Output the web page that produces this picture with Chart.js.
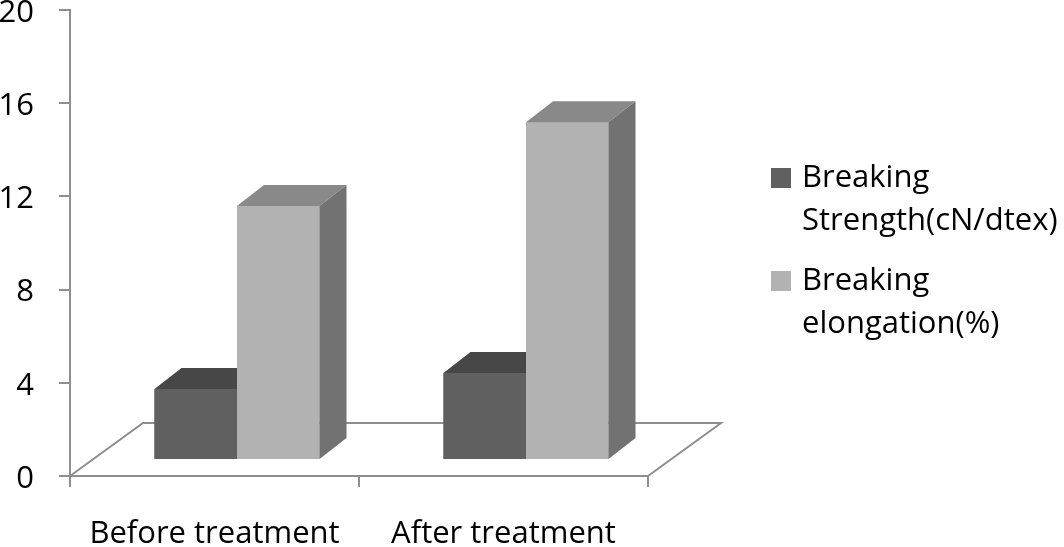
<!DOCTYPE html>
<html>
<head>
<meta charset="utf-8">
<script src="https://cdn.jsdelivr.net/npm/chart.js@4.4.1/dist/chart.umd.min.js"></script>
<style>
  body { margin: 0; background: #fff; }
  #wrap { position: relative; width: 1064px; height: 547px; overflow: hidden; }
  #legend { position: absolute; left: 771px; top: 0; font-family: "Open Sans", sans-serif; font-size: 31px; color: #000; }
  .item { position: absolute; left: 0; white-space: nowrap; }
  .item .box { position: absolute; left: 0; width: 20px; height: 20px; }
  .item .txt { position: absolute; left: 31px; line-height: 43px; }
</style>
</head>
<body>
<div id="wrap">
  <canvas id="chart"></canvas>
  <div id="legend"></div>
</div>
<script>
// datos
const categories = ['Before treatment', 'After treatment'];
const seriesNames = ['Breaking Strength(cN/dtex)', 'Breaking elongation(%)'];
const strength = [3.05, 3.73];
const elongation = [10.9, 14.5];
const yTicks = [0, 4, 8, 12, 16, 20];

const axisColor = '#8e8e8e';
const font = { family: 'Open Sans', size: 31 };

// desplazamientos del efecto 3D
const depth = { dx: 27, dy: 21 };
const shift = { dx: 22.5, dy: -16 };
const floor = { dx: 73, dy: 53 };

const bar3d = {
    id: 'bar3d',
    beforeDatasetsDraw(chart) {
        const { ctx, chartArea: a } = chart;
        const y0 = chart.scales.y.getPixelForValue(0);
        ctx.save();
        ctx.strokeStyle = axisColor;
        ctx.lineWidth = 2;
        ctx.beginPath();
        ctx.moveTo(a.left, y0);
        ctx.lineTo(a.left + floor.dx, y0 - floor.dy);
        ctx.lineTo(a.right + floor.dx, y0 - floor.dy);
        ctx.lineTo(a.right, y0);
        ctx.stroke();
        ctx.restore();
        ctx.save();
        ctx.translate(shift.dx, shift.dy);
    },
    afterDatasetsDraw(chart) {
        const ctx = chart.ctx;
        // todas las barras, de izquierda a derecha, para que se tapen bien
        const bars = [];
        chart.data.datasets.forEach((ds, i) => {
            chart.getDatasetMeta(i).data.forEach(bar => bars.push({ ds, bar }));
        });
        bars.sort((a, b) => a.bar.x - b.bar.x);
        bars.forEach(({ ds, bar }) => {
            const { x, y, base, width } = bar.getProps(['x', 'y', 'base', 'width'], true);
            const l = x - width / 2, r = x + width / 2;
            ctx.fillStyle = ds.backgroundColor;
            ctx.fillRect(l, y, width, base - y);
            ctx.fillStyle = ds.topColor;
            ctx.beginPath();
            ctx.moveTo(l, y);
            ctx.lineTo(l + depth.dx, y - depth.dy);
            ctx.lineTo(r + depth.dx, y - depth.dy);
            ctx.lineTo(r, y);
            ctx.closePath();
            ctx.fill();
            ctx.fillStyle = ds.sideColor;
            ctx.beginPath();
            ctx.moveTo(r, y);
            ctx.lineTo(r + depth.dx, y - depth.dy);
            ctx.lineTo(r + depth.dx, base - depth.dy);
            ctx.lineTo(r, base);
            ctx.closePath();
            ctx.fill();
        });
        ctx.restore();
    }
};

const chart = new Chart(document.getElementById('chart'), {
    type: 'bar',
    data: {
        labels: categories,
        datasets: [{
            label: seriesNames[0],
            data: strength,
            backgroundColor: '#606060',
            topColor: '#474747',
            sideColor: '#3e3e3e',
            clip: false
        }, {
            label: seriesNames[1],
            data: elongation,
            backgroundColor: '#b2b2b2',
            topColor: '#898989',
            sideColor: '#727272',
            clip: false
        }]
    },
    options: {
        responsive: true,
        maintainAspectRatio: false,
        animation: false,
        layout: { padding: { top: 10, right: 416, left: 0, bottom: 0 } },
        datasets: { bar: { barPercentage: 1, categoryPercentage: 0.571, borderWidth: 0 } },
        plugins: { legend: { display: false }, tooltip: { enabled: false } },
        scales: {
            x: {
                grid: { offset: true, drawOnChartArea: false, tickLength: 11, color: axisColor, lineWidth: 2 },
                border: { color: axisColor, width: 2 },
                ticks: { font: font, color: '#000', padding: 29, maxRotation: 0 },
                afterFit(scale) {
                    scale.height = 71;
                    scale.paddingLeft = 0;
                    scale.paddingRight = 0;
                }
            },
            y: {
                min: 0,
                max: 20,
                afterBuildTicks(scale) {
                    scale.ticks = yTicks.map(v => ({ value: v }));
                },
                grid: { drawOnChartArea: false, tickLength: 11, color: axisColor, lineWidth: 2 },
                border: { color: axisColor, width: 2 },
                ticks: { font: font, color: '#000', padding: 25, labelOffset: 3 },
                afterFit(scale) {
                    scale.width = 70;
                    scale.paddingTop = 0;
                    scale.paddingBottom = 0;
                }
            }
        }
    },
    plugins: [bar3d]
});

// leyenda en HTML
const legend = document.getElementById('legend');
const itemTops = [168, 271];
chart.data.datasets.forEach((ds, i) => {
    const item = document.createElement('div');
    item.className = 'item';
    item.style.top = itemTops[i] + 'px';
    const words = ds.label.split(' ');
    item.innerHTML = `<div class="box" style="background:${ds.backgroundColor}"></div>` +
        `<div class="txt" style="top:-14px">${words[0]}<br>${words.slice(1).join(' ')}</div>`;
    legend.appendChild(item);
});
</script>
</body>
</html>
